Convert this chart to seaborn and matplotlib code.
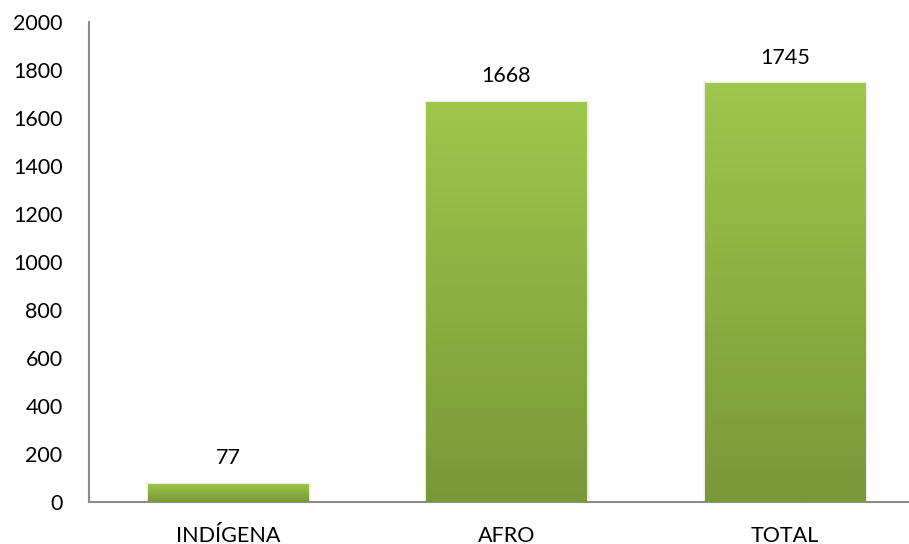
import numpy as np
import pandas as pd
import matplotlib
matplotlib.use("Agg")
import matplotlib.pyplot as plt
import seaborn as sns
from matplotlib.colors import LinearSegmentedColormap

categories = ["INDÍGENA", "AFRO", "TOTAL"]
values = [77, 1668, 1745]
y_ticks = [0, 200, 400, 600, 800, 1000, 1200, 1400, 1600, 1800, 2000]

sns.set_style("white")
plt.rcParams['font.family'] = ['Lato', 'DejaVu Sans']

df = pd.DataFrame({"cat": categories, "val": values})

fig = plt.figure(figsize=(9.09, 5.44), dpi=100)
ax = fig.add_axes([89 / 909, 42 / 544, 835 / 909, 480 / 544])

sns.barplot(data=df, x="cat", y="val", color="#8db043", width=0.575,
            edgecolor="#ececec", linewidth=2.5, ax=ax, zorder=2)

# vertical gradient in each bar (light top, dark bottom)
cmap = LinearSegmentedColormap.from_list("grn", ["#799838", "#9ec74b"])
grad = np.linspace(0, 1, 256).reshape(-1, 1)
for p in ax.patches:
    x0, y0 = p.get_x(), p.get_y()
    w, h = p.get_width(), p.get_height()
    im = ax.imshow(grad, cmap=cmap, origin="lower", aspect="auto",
                   extent=[x0, x0 + w, y0, y0 + h], zorder=3)
    im.set_clip_path(p)
    ax.annotate(f"{int(h)}", (x0 + w / 2, h), xytext=(0, 11),
                textcoords="offset points", ha="center", va="bottom",
                fontsize=15.5, color="#000000")

ax.set_xlim(-0.5, 2.5)
ax.set_ylim(0, 2000)
ax.set_yticks(y_ticks)
ax.set_xlabel("")
ax.set_ylabel("")
ax.tick_params(axis="y", length=0, pad=19, labelsize=15.5, colors="#000000")
ax.tick_params(axis="x", length=0, pad=17, labelsize=15.5, colors="#000000")

sns.despine(ax=ax, top=True, right=True)
for s in ["left", "bottom"]:
    ax.spines[s].set_color("#8c8c8c")
    ax.spines[s].set_linewidth(1.5)

fig.savefig("out.png", dpi=100)
